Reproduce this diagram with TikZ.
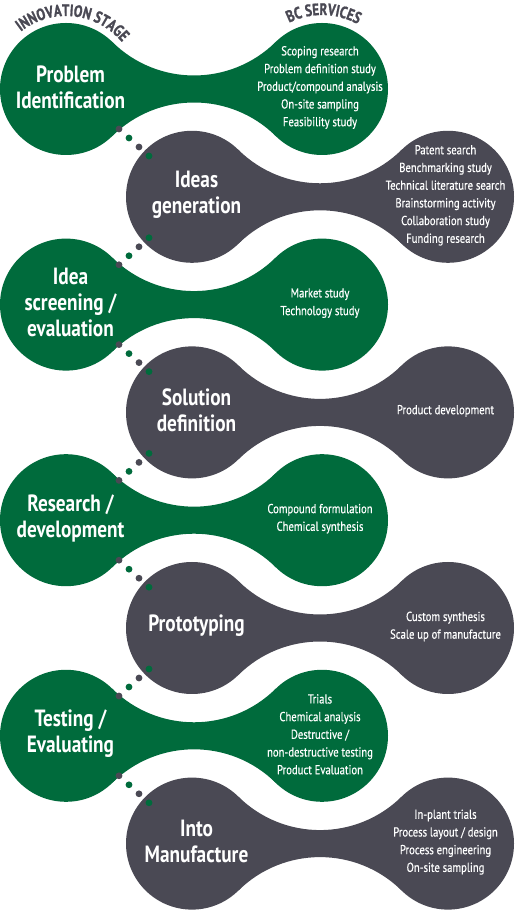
\documentclass[tikz,border=0pt]{standalone}
\usepackage{fontspec}
\setmainfont{PT Sans}[FakeStretch=0.82]
\newfontfamily\headfam{PT Sans}[FakeStretch=0.78, BoldFeatures={FakeBold=1.2}]
\newfontfamily\servfam{PT Sans}[FakeStretch=0.82, FakeBold=0.5]
\definecolor{bcgreen}{HTML}{006B3C}
\definecolor{bcgray}{HTML}{4A4954}
\newcommand{\headfont}{\headfam\fontsize{16.5}{16.5}\selectfont\bfseries}
\tikzset{
  lobe/.style={circle, inner sep=0pt, outer sep=0pt, minimum size=132pt, fill=#1},
  stagetitle/.style={text=white, font=\fontsize{23.5}{26}\selectfont\bfseries, align=center, inner sep=0pt},
  servicelist/.style={text=white, font=\servfam\fontsize{13}{17.7}\selectfont, align=center, inner sep=0pt},
  bead/.style={circle, inner sep=0pt, outer sep=0pt, minimum size=6.8pt, fill=#1},
  arcletter/.style={text=bcgray, font=\headfont, inner sep=0pt, anchor=base},
}
% #1 name, #2 colour, #3 x of left lobe centre, #4 y of centres
\newcommand{\blob}[4]{%
  \node[lobe=#2] (#1L) at (#3,#4) {};
  \node[lobe=#2] (#1R) at ({#3+256},#4) {};
  \fill[#2] ({#3+128},{#4+129.79}) ++(225.4:116.29)
     arc[start angle=225.4, end angle=314.6, radius=116.29]
     -- ({#3+128+81.68},{#4-46.99})
     arc[start angle=45.4, end angle=134.6, radius=116.29] -- cycle;
}
% green -> gray beads (from upper left to lower right)
\newcommand{\beadsdown}[2]{%
  \node[bead=bcgray]  (#1a) at (119,{#2-40}) {};
  \node[bead=bcgreen] (#1b) at (129,{#2-49}) {};
  \node[bead=bcgray]  (#1c) at (139,{#2-58}) {};
  \node[bead=bcgreen] (#1d) at (149,{#2-67}) {};
}
% gray -> green beads (from upper right to lower left)
\newcommand{\beadsup}[2]{%
  \node[bead=bcgreen] (#1a) at (149,{#2-41}) {};
  \node[bead=bcgray]  (#1b) at (139,{#2-50}) {};
  \node[bead=bcgreen] (#1c) at (129,{#2-59}) {};
  \node[bead=bcgray]  (#1d) at (119,{#2-68}) {};
}
% letters set along an arc: #1 name, #2 cx, #3 cy, #4 radius, #5 centre angle, #6 whole text, #7 letter list
\newcommand{\arcword}[7]{%
  \begingroup\headfont
  \pgfmathsetmacro{\arctot}{width("#6")}%
  \pgfmathsetmacro{\arcstart}{#5 + (\arctot/2)/#4*180/pi}%
  \xdef\arccum{0}%
  \foreach \ch [count=\i] in {#7} {%
    \pgfmathsetmacro{\chw}{width("\ch")}%
    \pgfmathsetmacro{\chang}{\arcstart - (\arccum + \chw/2)/#4*180/pi}%
    \node[arcletter, rotate=\chang-90] (#1\i) at ({#2+#4*cos(\chang)},{#3+#4*sin(\chang)}) {\ch};%
    \pgfmathsetmacro{\chnext}{\arccum+\chw}%
    \xdef\arccum{\chnext}%
  }%
  \endgroup
}
\begin{document}
\begin{tikzpicture}[x=1pt,y=1pt]
\useasboundingbox (0,0) rectangle (515,913);
\fill[white] (0,0) rectangle (515,913);

\blob{a}{bcgreen}{66}{824}
\blob{b}{bcgray}{192}{716.2}
\blob{c}{bcgreen}{66}{608.4}
\blob{d}{bcgray}{192}{500.6}
\blob{e}{bcgreen}{66}{392.8}
\blob{f}{bcgray}{192}{285}
\blob{g}{bcgreen}{66}{177.2}
\blob{h}{bcgray}{192}{69.4}

% curved headings
\arcword{hi}{66}{824}{73}{85.5}{INNOVATION STAGE}{I,N,N,O,V,A,T,I,O,N,\ ,S,T,A,G,E}
\arcword{hb}{322}{824}{74}{89}{BC SERVICES}{B,C,\ ,S,E,R,V,I,C,E,S}

% stage titles
\node[stagetitle] (sa) at (70.5,826) {Problem\\Identification};
\node[stagetitle] (sb) at (196.5,718.2) {Ideas\\generation};
\node[stagetitle] (sc) at (70.5,610.4) {Idea\\screening /\\evaluation};
\node[stagetitle] (sd) at (196.5,502.6) {Solution\\definition};
\node[stagetitle] (se) at (70.5,394.8) {Research /\\development};
\node[stagetitle] (sf) at (196.5,287) {Prototyping};
\node[stagetitle] (sg) at (70.5,179.2) {Testing /\\Evaluating};
\node[stagetitle] (sh) at (196.5,71.4) {Into\\Manufacture};

% services
\node[servicelist] (va) at (320,825.5) {Scoping research\\Problem definition study\\Product/compound analysis\\On-site sampling\\Feasibility study};
\node[servicelist] (vb) at (445.5,717.7) {Patent search\\Benchmarking study\\Technical literature search\\Brainstorming activity\\Collaboration study\\Funding research};
\node[servicelist] (vc) at (320,609.9) {Market study\\Technology study};
\node[servicelist] (vd) at (445.5,502.1) {Product development};
\node[servicelist] (ve) at (320,394.3) {Compound formulation\\Chemical synthesis};
\node[servicelist] (vf) at (445.5,286.5) {Custom synthesis\\Scale up of manufacture};
\node[servicelist] (vg) at (320,178.7) {Trials\\Chemical analysis\\Destructive /\\non-destructive testing\\Product Evaluation};
\node[servicelist] (vh) at (445.5,70.9) {In-plant trials\\Process layout / design\\Process engineering\\On-site sampling};

% beads between stages
\beadsdown{ab}{824}
\beadsup{bc}{716.2}
\beadsdown{cd}{608.4}
\beadsup{de}{500.6}
\beadsdown{ef}{392.8}
\beadsup{fg}{285}
\beadsdown{gh}{177.2}
\end{tikzpicture}
\end{document}
